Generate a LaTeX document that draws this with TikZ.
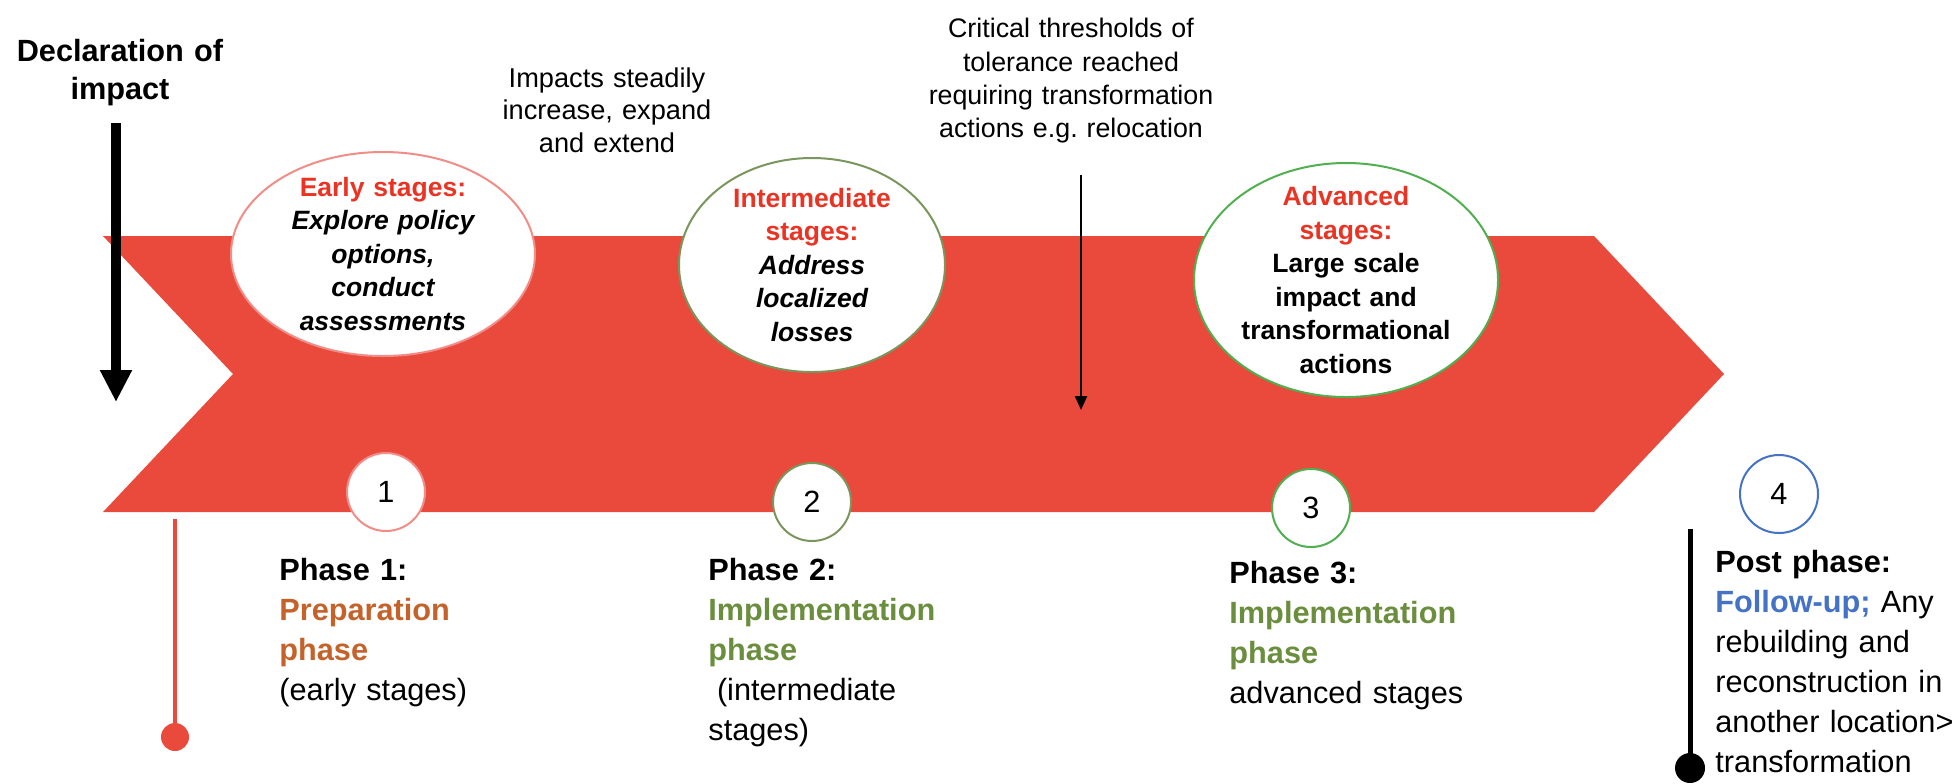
\documentclass[tikz,border=0pt]{standalone}
\usepackage{fontspec}
\setmainfont{Liberation Sans}
\usetikzlibrary{arrows.meta,shapes.geometric}

\definecolor{chevred}{RGB}{233,74,60}
\definecolor{stagered}{RGB}{235,51,36}
\definecolor{edgepink}{RGB}{242,140,135}
\definecolor{edgeolive}{RGB}{122,150,92}
\definecolor{edgegreen}{RGB}{80,175,80}
\definecolor{edgeblue}{RGB}{68,114,196}
\definecolor{prepbrown}{RGB}{196,98,42}
\definecolor{implgreen}{RGB}{106,142,61}

\tikzset{
  stage/.style={ellipse, draw=#1, fill=white, line width=1pt, inner sep=0pt},
  stagetext/.style={text width=120pt, align=center, inner sep=0pt,
    font=\fontsize{13.25}{16.75}\selectfont\bfseries},
  phasenum/.style={circle, draw=#1, fill=white, line width=1pt, minimum size=39pt,
    inner sep=0pt, font=\fontsize{15.35}{20}\selectfont},
  phasetext/.style={anchor=north west, text width=125pt, align=left, inner sep=0pt,
    font=\fontsize{15.35}{20}\selectfont},
  note/.style={anchor=north, align=center, inner sep=0pt,
    font=\fontsize{13.4}{16.6}\selectfont},
}

\begin{document}
\frenchspacing
\begin{tikzpicture}[x=0.5pt,y=-0.5pt]
\useasboundingbox (0,0) rectangle (1957,783);
% chevron
\fill[chevred] (103,236) -- (1594,236) -- (1724,374) -- (1594,512) -- (103,512) -- (233,374) -- cycle;

% declaration
\node[note, text width=110pt, font=\fontsize{15.35}{19}\selectfont\bfseries] (decl) at (120,39) {Declaration of\\ impact};
\coordinate (declTop) at (116,123);
\coordinate (declTip) at (116,402);
\draw[line width=5pt, -{Triangle[width=15pt,length=16pt]}] (declTop) -- (declTip);

% notes above
\node[note, text width=115pt, font=\fontsize{13.6}{16.25}\selectfont] (steady) at (607,67) {Impacts steadily\\ increase, expand\\ and extend};
\node[note, text width=150pt] (critical) at (1071,18) {Critical thresholds of\\ tolerance reached\\ requiring transformation\\ actions e.g.\ relocation};
\coordinate (critTop) at (1081,175);
\coordinate (critTip) at (1081,410);
\draw[line width=1.2pt, -{Triangle[width=6pt,length=7pt]}] (critTop) -- (critTip);

% stages
\node[stage=edgepink, minimum width=152pt, minimum height=102pt] (early) at (383,254) {};
\node[stagetext] (earlytext) at (early) {\textcolor{stagered}{Early stages:}\\ \itshape Explore policy\\ options,\\ conduct\\ assessments};
\node[stage=edgeolive, minimum width=133pt, minimum height=107pt] (inter) at (812,265) {};
\node[stagetext] (intertext) at (inter) {\textcolor{stagered}{Intermediate\\ stages:}\\ \itshape Address\\ localized\\ losses};
\node[stage=edgegreen, minimum width=152pt, minimum height=117pt] (adv) at (1346,280) {};
\node[stagetext] (advtext) at (adv) {\textcolor{stagered}{Advanced\\ stages:}\\ Large scale\\ impact and\\ transformational\\ actions};

% phase numbers
\node[phasenum=edgepink] (n1) at (386,492) {1};
\node[phasenum=edgeolive] (n2) at (812,502) {2};
\node[phasenum=edgegreen] (n3) at (1311,508) {3};
\node[phasenum=edgeblue] (n4) at (1779,494) {4};

% phases
\node[phasetext] (phase1) at (279,558) {\textbf{Phase 1:}\\ \textcolor{prepbrown}{\textbf{Preparation}}\\ \textcolor{prepbrown}{\textbf{phase}}\\ (early stages)};
\node[phasetext] (phase2) at (708,558) {\textbf{Phase 2:}\\ \textcolor{implgreen}{\textbf{Implementation}}\\ \textcolor{implgreen}{\textbf{phase}}\\ \hspace*{0.28em}(intermediate\\ stages)};
\node[phasetext] (phase3) at (1229,561) {\textbf{Phase 3:}\\ \textcolor{implgreen}{\textbf{Implementation}}\\ \textcolor{implgreen}{\textbf{phase}}\\ advanced stages};
\node[phasetext] (post) at (1715,550) {\textbf{Post phase:}\\ \textcolor{edgeblue}{\textbf{Follow-up;}} Any\\ rebuilding and\\ reconstruction in\\ another location>\\ transformation};

% timeline ends
\coordinate (startTop) at (175,519);
\coordinate (startEnd) at (175,737);
\draw[chevred, line width=2pt] (startTop) -- (startEnd);
\fill[chevred] (startEnd) circle (14);
\coordinate (postTop) at (1690,529);
\coordinate (postEnd) at (1690,768);
\draw[black, line width=2.5pt] (postTop) -- (postEnd);
\fill[black] (postEnd) circle (15);
\end{tikzpicture}
\end{document}
